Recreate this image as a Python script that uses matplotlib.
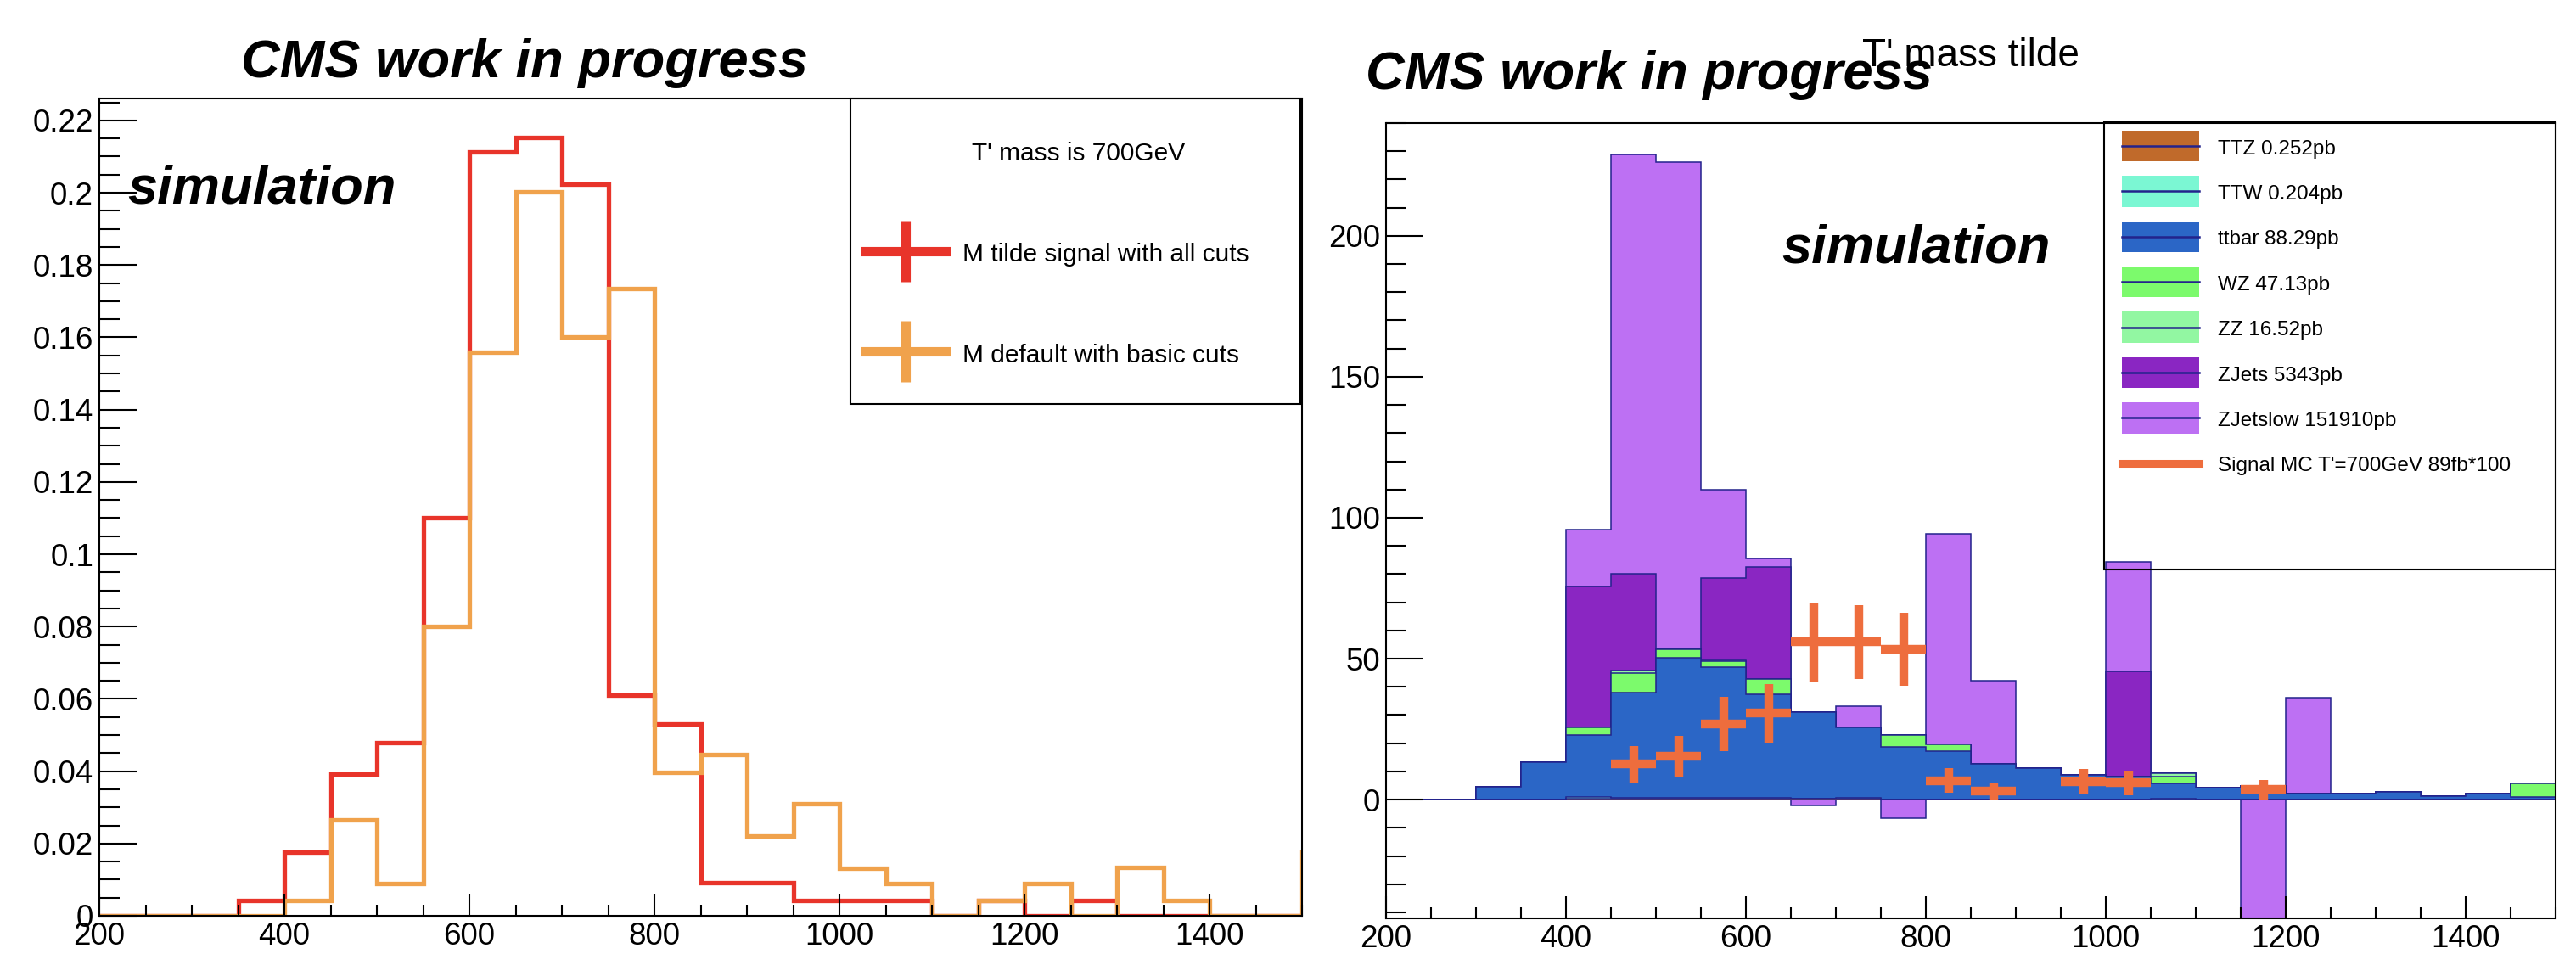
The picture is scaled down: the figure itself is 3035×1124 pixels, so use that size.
import numpy as np
import matplotlib
matplotlib.use("Agg")
import matplotlib.pyplot as plt
from matplotlib.lines import Line2D
from matplotlib.patches import Patch, Rectangle
from matplotlib.legend_handler import HandlerTuple, HandlerPatch
from matplotlib.ticker import MultipleLocator, FuncFormatter

plt.rcParams['font.family'] = ['Liberation Sans', 'DejaVu Sans']

# 50 GeV bins from 200 to 1500, shared by both pads
edges = np.arange(200, 1501, 50)

# left pad: normalised T' mass, 700 GeV signal
mtilde_all_cuts = [0, 0, 0, 0.0043, 0.0177, 0.0391, 0.048, 0.110, 0.2112, 0.2153,
                   0.2023, 0.0611, 0.053, 0.0091, 0.0091, 0.0042, 0.0042, 0.0042,
                   0, 0.0042, 0, 0.0042, 0, 0, 0, 0]
mdefault_basic_cuts = [0, 0, 0, 0, 0.0043, 0.0266, 0.0089, 0.080, 0.1558, 0.2003,
                       0.160, 0.1734, 0.0396, 0.0446, 0.022, 0.031, 0.0132, 0.009,
                       0, 0.0043, 0.009, 0, 0.0133, 0.0043, 0, 0]
mdefault_overflow = 0.0175

# right pad: stacked backgrounds (bottom to top) and scaled signal
ttz = [0, 0, 0, 0, 0.2, 0.4, 0.4, 0.4, 0.4, 0.2, 0.2, 0, 0, 0, 0, 0, 0, 0,
       0, 0, 0, 0, 0, 0, 0, 0]
ttw = [0, 0, 0, 0, 0.6, 0.3, 0.3, 0.3, 0.3, 0, 0.3, 0, 0, 0, 0, 0, 0, 0.3,
       0, 0, 0, 0, 0, 0, 0, 0]
ttbar = [0, 0, 4.5, 13.3, 22.1, 37.2, 49.7, 46.3, 36.6, 30.9, 25.2, 18.6, 17.1,
         12.6, 11.1, 8.7, 8.1, 5.4, 4.2, 4.8, 2.2, 2.2, 2.8, 1.2, 2.2, 1.0]
wz = [0, 0, 0, 0, 2.6, 6.9, 2.8, 2.1, 5.6, 0, 0, 4.3, 2.4, 0, 0, 0, 0, 2.4,
      0, 0, 0, 0, 0, 0, 0, 4.7]
zz = [0, 0, 0, 0, 0, 0.9, 0, 0.3, 0, 0, 0, 0, 0, 0, 0, 0, 0, 1.2,
      0, 0, 0, 0, 0, 0, 0, 0]
zjets = [0, 0, 0, 0, 50.2, 34.5, 0, 29.1, 39.6, 0, 0, 0, 0, 0, 0, 0, 37.5, 0,
         0, 0, 0, 0, 0, 0, 0, 0]
zjetslow = [0, 0, 0, 0, 20.1, 148.8, 172.8, 31.3, 3.0, -33.2, 7.5, -29.6, 74.8,
            29.6, 0, 0, 38.6, 0, 0, -70.0, 33.9, 0, 0, 0, 0, 0]
signal = [0, 0, 0, 0, 0, 12.6, 15.4, 26.8, 30.6, 55.9, 55.9, 53.4, 6.7, 3.0, 0,
          6.3, 6.0, 0, 0, 3.6, 0, 0, 0, 0, 0, 0]
signal_err = [0, 0, 0, 0, 0, 6.4, 7.1, 9.6, 10.3, 14.0, 13.0, 12.9, 4.4, 3.0, 0,
              4.6, 4.4, 0, 0, 3.5, 0, 0, 0, 0, 0, 0]

stack_layers = [ttz, ttw, ttbar, wz, zz, zjets, zjetslow]
stack_labels = ["TTZ 0.252pb", "TTW 0.204pb", "ttbar 88.29pb", "WZ 47.13pb",
                "ZZ 16.52pb", "ZJets 5343pb", "ZJetslow 151910pb"]
stack_colors = ["#C06A2B", "#7BF7D3", "#2B66C6", "#7CFA6C", "#92F7A2",
                "#8A26C2", "#BD70F3"]
signal_label = "Signal MC T'=700GeV 89fb*100"

red = "#E8342A"
orange = "#F0A24C"
signal_color = "#EE6D3D"
navy = "#23238C"

W, H = 3035, 1124
fig = plt.figure(figsize=(W / 100, H / 100), dpi=100)


def root_style(ax, ymajor, yminor):
    ax.set_xlim(200, 1500)
    ax.xaxis.set_major_locator(MultipleLocator(200))
    ax.xaxis.set_minor_locator(MultipleLocator(50))
    ax.yaxis.set_major_locator(MultipleLocator(ymajor))
    ax.yaxis.set_minor_locator(MultipleLocator(yminor))
    ax.yaxis.set_major_formatter(FuncFormatter(lambda v, p: "%g" % round(v, 6)))
    ax.tick_params(which="both", direction="in", top=False, right=False,
                   width=1.5, labelsize=26.5)
    ax.tick_params(axis="y", which="major", length=32, pad=5)
    ax.tick_params(axis="y", which="minor", length=17)
    ax.tick_params(axis="x", which="major", length=19, pad=5)
    ax.tick_params(axis="x", which="minor", length=9.5)
    for s in ax.spines.values():
        s.set_linewidth(1.5)


def band_patch(legend, orig_handle, xdescent, ydescent, width, height, fontsize):
    # ROOT-like fill box, centred on the line drawn through it
    mid = (height - ydescent) / 2
    h = 1.5 * fontsize
    return Rectangle((-xdescent, mid - h / 2), width, h)


# ---- left pad ----
ax1 = fig.add_axes([117 / W, 1 - 1079 / H, (1534 - 117) / W, (1079 - 116) / H])
ax1.stairs(mtilde_all_cuts, edges, color=red, lw=3.8)
ax1.stairs(mdefault_basic_cuts + [mdefault_overflow], np.append(edges, 1550),
           color=orange, lw=3.8)
ax1.set_ylim(0, max(mtilde_all_cuts) * 1.05)
root_style(ax1, 0.02, 0.005)

h_red = Line2D([], [], color=red, lw=8, marker="|", markersize=52, mew=8)
h_orange = Line2D([], [], color=orange, lw=8, marker="|", markersize=52, mew=8)
leg1 = ax1.legend([h_red, h_orange],
                  ["M tilde signal with all cuts", "M default with basic cuts"],
                  title="T' mass is 700GeV", loc="upper left",
                  bbox_to_anchor=(1020 / W, 1 - 167 / H), bbox_transform=fig.transFigure,
                  frameon=False, fontsize=21.5, title_fontsize=21.5, numpoints=1,
                  handlelength=3.14, handleheight=1.14, labelspacing=2.95,
                  handletextpad=0.67, borderpad=0, borderaxespad=0)
leg1.get_title().set_position((25, 0))
fig.add_artist(Rectangle((1002 / W, 1 - 476 / H), 530 / W, 360 / H,
                         transform=fig.transFigure, fill=False, lw=1.5, ec="black"))

# ---- right pad ----
ax2 = fig.add_axes([1633 / W, 1 - 1081.6 / H, (3011 - 1633) / W, (1081.6 - 145) / H])
cum = np.cumsum(np.array(stack_layers), axis=0)
# ROOT draws every cumulative sum from zero, topmost first
for k in range(len(stack_layers) - 1, -1, -1):
    ax2.stairs(cum[k], edges, baseline=0, fill=True, facecolor=stack_colors[k],
               edgecolor=navy, lw=1.1)

centers = (edges[:-1] + edges[1:]) / 2
sig = np.array(signal)
err = np.array(signal_err)
has = sig > 0
ax2.errorbar(centers[has], sig[has], xerr=25, yerr=err[has], fmt="none",
             ecolor=signal_color, elinewidth=7.5, capsize=0, zorder=5)
ax2.set_ylim(-42, 240)
root_style(ax2, 50, 10)

handles = [(Patch(facecolor=c, edgecolor="none"), Line2D([], [], color=navy, lw=1.8))
           for c in stack_colors]
handles.append(Line2D([], [], color=signal_color, lw=6.5))
ax2.legend(handles, stack_labels + [signal_label], loc="upper left",
           handler_map={tuple: HandlerTuple(ndivide=1, pad=0),
                        Patch: HandlerPatch(patch_func=band_patch)},
           bbox_to_anchor=(2500 / W, 1 - 162.5 / H), bbox_transform=fig.transFigure,
           frameon=False, fontsize=17.5, handlelength=3.74, handleheight=1.0,
           labelspacing=1.2, handletextpad=0.9, borderpad=0, borderaxespad=0)
fig.add_artist(Rectangle((2479 / W, 1 - 671 / H), 532 / W, 527 / H,
                         transform=fig.transFigure, fill=False, lw=1.5, ec="black"))

# ---- labels ----
bold_it = dict(fontsize=45.5, fontweight="bold", fontstyle="italic", va="baseline")
fig.text(2322 / W, 1 - 78 / H, "T' mass tilde", fontsize=33, ha="center",
         va="baseline", zorder=2)
fig.text(284 / W, 1 - 91 / H, "CMS work in progress", zorder=3, **bold_it)
fig.text(1609 / W, 1 - 105 / H, "CMS work in progress", zorder=3, **bold_it)
fig.text(150 / W, 1 - 239 / H, "simulation", zorder=3, **bold_it)
fig.text(2099 / W, 1 - 310 / H, "simulation", zorder=3, **bold_it)

fig.savefig("out.png", dpi=100, facecolor="white")
